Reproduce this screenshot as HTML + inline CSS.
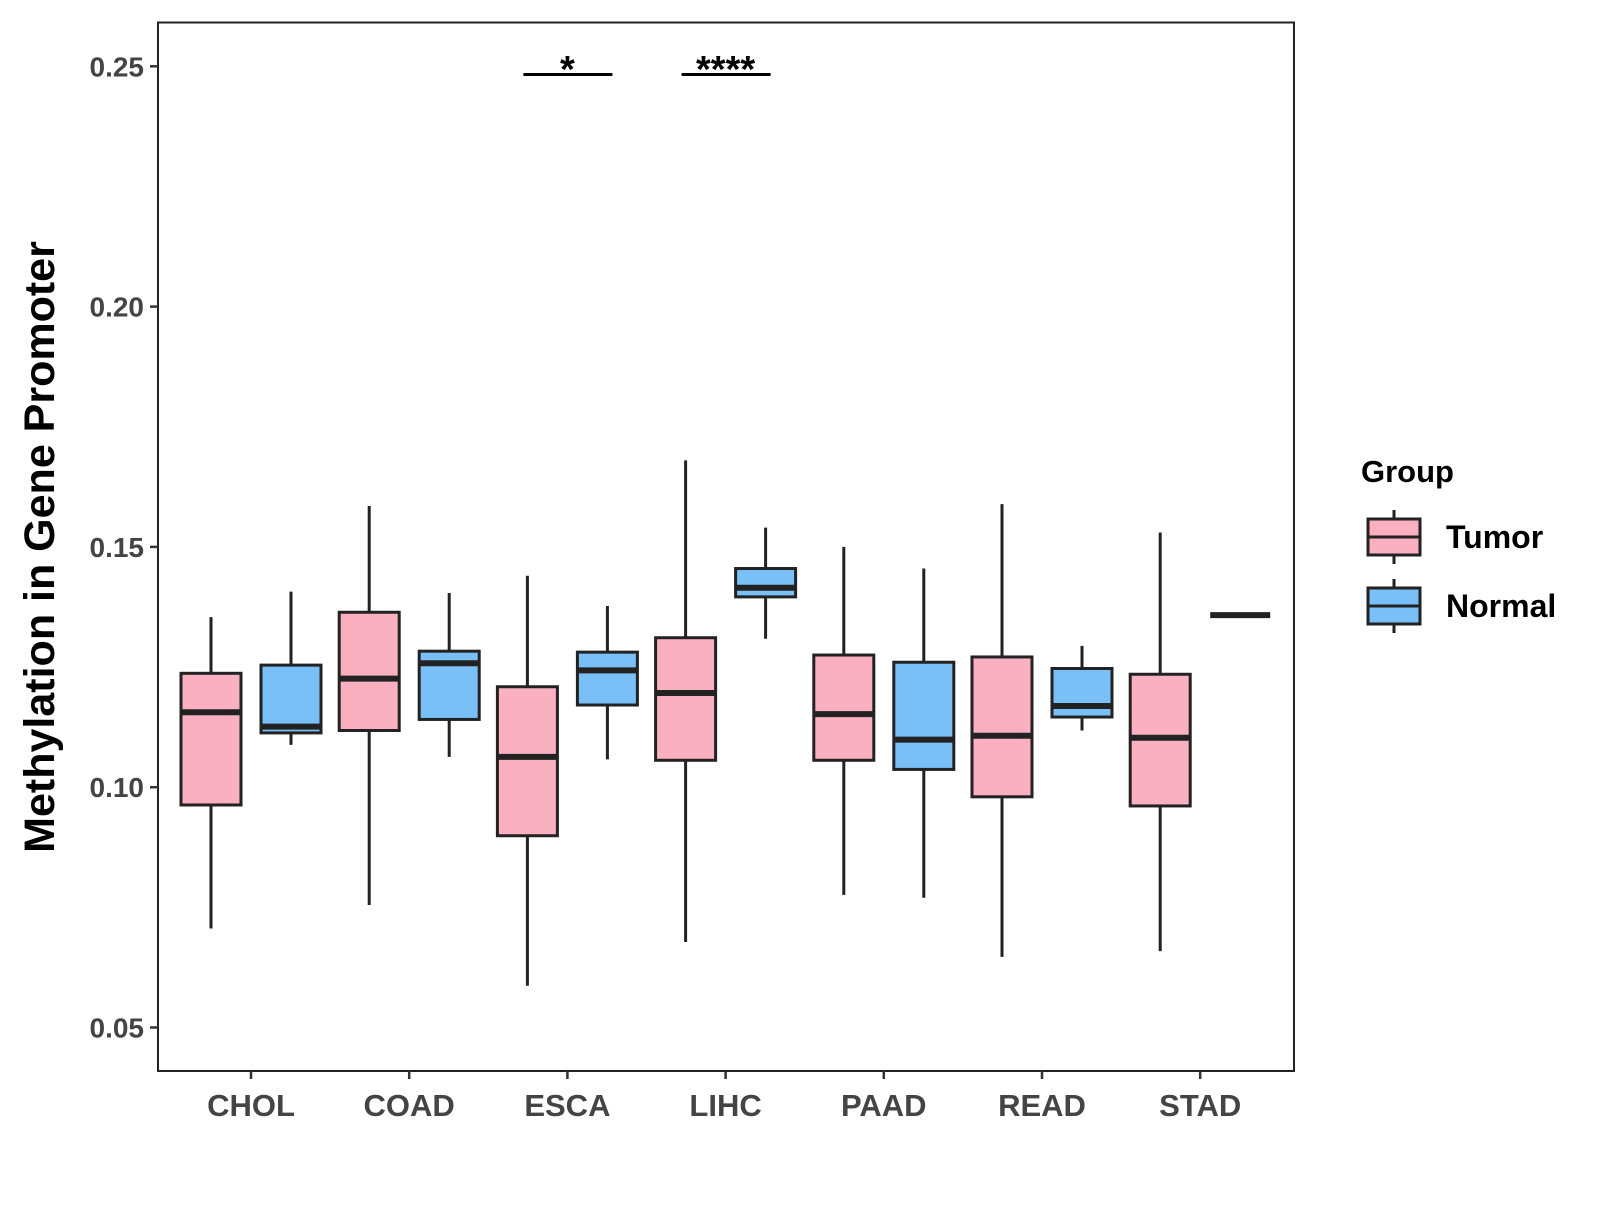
<!DOCTYPE html>
<html><head><meta charset="utf-8"><style>
html,body{margin:0;padding:0;background:#fff;}
svg text{font-family:"Liberation Sans",Arial,sans-serif;font-weight:bold;}
</style></head><body>
<svg id="chart" width="1600" height="1200" viewBox="0 0 1600 1200" xmlns="http://www.w3.org/2000/svg"></svg>
<script>
const categories=["CHOL","COAD","ESCA","LIHC","PAAD","READ","STAD"];
// [whiskerLow, q1, median, q3, whiskerHigh]
const tumorStats=[[0.0706,0.0963,0.1156,0.1237,0.1354],[0.0755,0.1118,0.1226,0.1364,0.1585],[0.0587,0.0899,0.1063,0.1209,0.1440],[0.0678,0.1056,0.1196,0.1311,0.1680],[0.0776,0.1056,0.1152,0.1275,0.1500],[0.0647,0.0980,0.1107,0.1271,0.1589],[0.0659,0.0961,0.1103,0.1235,0.1530]];
const normalStats=[[0.1088,0.1113,0.1126,0.1254,0.1407],[0.1063,0.1141,0.1258,0.1283,0.1404],[0.1058,0.1171,0.1243,0.1281,0.1377],[0.1309,0.1396,0.1415,0.1455,0.1540],[0.0770,0.1037,0.1099,0.1260,0.1455],[0.1118,0.1146,0.1169,0.1247,0.1294],[0.1358,0.1358,0.1358,0.1358,0.1358]];
const yTicks=[0.05,0.10,0.15,0.20,0.25];
const yTickLabels=["0.05","0.10","0.15","0.20","0.25"];
const sigCategories=["ESCA","LIHC"];
const sigLabels=["*","****"];

const NS="http://www.w3.org/2000/svg";
const svg=document.getElementById("chart");
const L=158,T=22.5,R=1294,B=1071;
function y(v){return 1027.5-(v-0.05)*4806;}
function x(i){return 251+i*158.2;}
function mk(tag,attrs,parent){const e=document.createElementNS(NS,tag);for(const k in attrs)e.setAttribute(k,attrs[k]);(parent||svg).appendChild(e);return e;}

const frame=mk("rect",{x:L,y:T,width:R-L,height:B-T,fill:"#fff",stroke:"#222","stroke-width":2});



yTicks.forEach((v,i)=>{
  const t=mk("line",{x1:L-8,x2:L,y1:y(v),y2:y(v),stroke:"#333","stroke-width":2.5});
  
  
  const lb=mk("text",{x:L-14,y:y(v)+10,"text-anchor":"end","font-size":28,fill:"#444"});
  lb.textContent=yTickLabels[i];
  
  
});
categories.forEach((c,i)=>{
  const t=mk("line",{x1:x(i),x2:x(i),y1:B,y2:B+8,stroke:"#333","stroke-width":2.5});
  
  
  const lb=mk("text",{x:x(i),y:B+45,"text-anchor":"middle","font-size":31,fill:"#444"});
  lb.textContent=c;
  
  
});

function box(cx,s,fill,name){
  const g=mk("g",{});
  
  
  const hw=30;
  mk("line",{x1:cx,x2:cx,y1:y(s[0]),y2:y(s[4]),stroke:"#222","stroke-width":3},g);
  if(s[3]>s[1]) mk("rect",{x:cx-hw,y:y(s[3]),width:2*hw,height:y(s[1])-y(s[3]),fill:fill,stroke:"#222","stroke-width":3},g);
  mk("line",{x1:cx-hw,x2:cx+hw,y1:y(s[2]),y2:y(s[2]),stroke:"#222","stroke-width":6},g);
}
categories.forEach((c,i)=>{
  box(x(i)-40,tumorStats[i],"#FBB0C2","box-tumor-"+c.toLowerCase());
  box(x(i)+40,normalStats[i],"#78C0F7","box-normal-"+c.toLowerCase());
});

sigCategories.forEach((c,k)=>{
  const i=categories.indexOf(c);
  const ln=mk("line",{x1:x(i)-44,x2:x(i)+45,y1:74.5,y2:74.5,stroke:"#000","stroke-width":3});
  
  
  const tx=mk("text",{x:x(i),y:82,"text-anchor":"middle","font-size":38,fill:"#000"});
  tx.textContent=sigLabels[k];
  
  
});

const yt=mk("text",{x:0,y:0,"text-anchor":"middle","font-size":43,fill:"#000",transform:"translate(54,547) rotate(-90)"});
yt.textContent="Methylation in Gene Promoter";



const lg=mk("g",{});


const lt=mk("text",{x:1361,y:482,"font-size":31,fill:"#000"},lg);
lt.textContent="Group";
[["Tumor","#FBB0C2",537],["Normal","#78C0F7",606]].forEach(([n,f,cy])=>{
  const e=mk("g",{},lg);
  
  
  mk("line",{x1:1394,x2:1394,y1:cy-27,y2:cy+27,stroke:"#222","stroke-width":3},e);
  mk("rect",{x:1368,y:cy-18,width:52,height:36,fill:f,stroke:"#222","stroke-width":3},e);
  mk("line",{x1:1368,x2:1420,y1:cy,y2:cy,stroke:"#222","stroke-width":3},e);
  const t=mk("text",{x:1446,y:cy+11,"font-size":32,fill:"#000"},e);
  t.textContent=n;
});
</script>
</body></html>
